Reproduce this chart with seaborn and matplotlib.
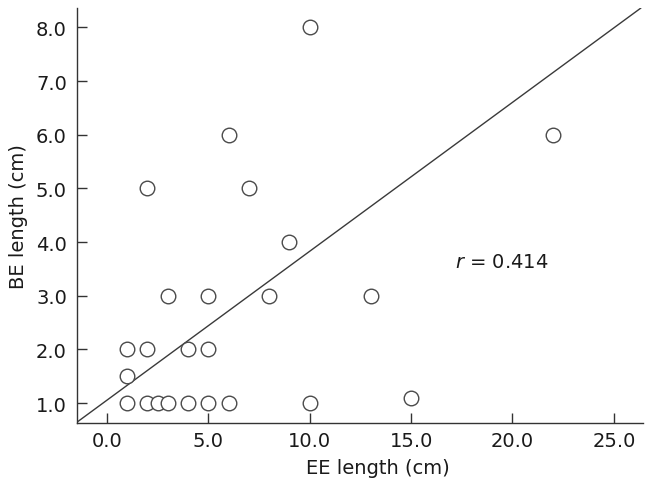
import pandas as pd
import matplotlib
matplotlib.use('Agg')
import matplotlib.pyplot as plt
import seaborn as sns

# EE vs BE length
ee_length = [1, 2, 2.5, 3, 4, 5, 6, 10, 15, 1, 1, 2, 4, 5, 3, 5, 8, 13, 9, 2, 7, 6, 22, 10]
be_length = [1, 1, 1, 1, 1, 1, 1, 1, 1.1, 1.5, 2, 2, 2, 2, 3, 3, 3, 3, 4, 5, 5, 6, 6, 8]
x_ticks = [0, 5, 10, 15, 20, 25]
y_ticks = [1, 2, 3, 4, 5, 6, 7, 8]

# fitted line as drawn in the figure
line_intercept = 1.055
line_slope = 0.2774
r_value = 0.414

data = pd.DataFrame({'EE': ee_length, 'BE': be_length})

sns.set_style('ticks')
plt.rcParams['font.family'] = ['DejaVu Sans']
text_color = '#1a1a1a'

fig = plt.figure(figsize=(6.53, 4.89), dpi=100)
ax = fig.add_axes([0.1184, 0.1329, 0.8658, 0.8487])

sns.scatterplot(x='EE', y='BE', data=data, ax=ax, s=110, facecolor='white',
                edgecolor='#4a4a4a', linewidth=1.0, zorder=3)
ax.axline((0, line_intercept), slope=line_slope, color='#3a3a3a', linewidth=1.0, zorder=2)

ax.set_xlim(-1.46, 26.42)
ax.set_ylim(0.63, 8.36)

ax.set_xticks(x_ticks)
ax.set_xticklabels([f'{v:.1f}' for v in x_ticks])
ax.set_yticks(y_ticks)
ax.set_yticklabels([f'{v:.1f}' for v in y_ticks])
ax.tick_params(axis='both', direction='in', labelsize=14, length=7, width=1.0,
               color='#333333', labelcolor=text_color)
ax.tick_params(axis='x', pad=6)
ax.tick_params(axis='y', pad=7.5)
ax.set_xlabel('EE length (cm)', fontsize=14, color=text_color)
ax.set_ylabel('BE length (cm)', fontsize=14, color=text_color)
ax.xaxis.set_label_coords(0.532, -0.085)
ax.yaxis.set_label_coords(-0.087, 0.5)
for s in ['left', 'bottom']:
    ax.spines[s].set_color('#333333')
    ax.spines[s].set_linewidth(1.0)
sns.despine(ax=ax)

ax.text(17.16, 3.64, f'$r$ = {r_value:.3f}', fontsize=14, color=text_color, va='center')

fig.savefig('out.png', dpi=100)
